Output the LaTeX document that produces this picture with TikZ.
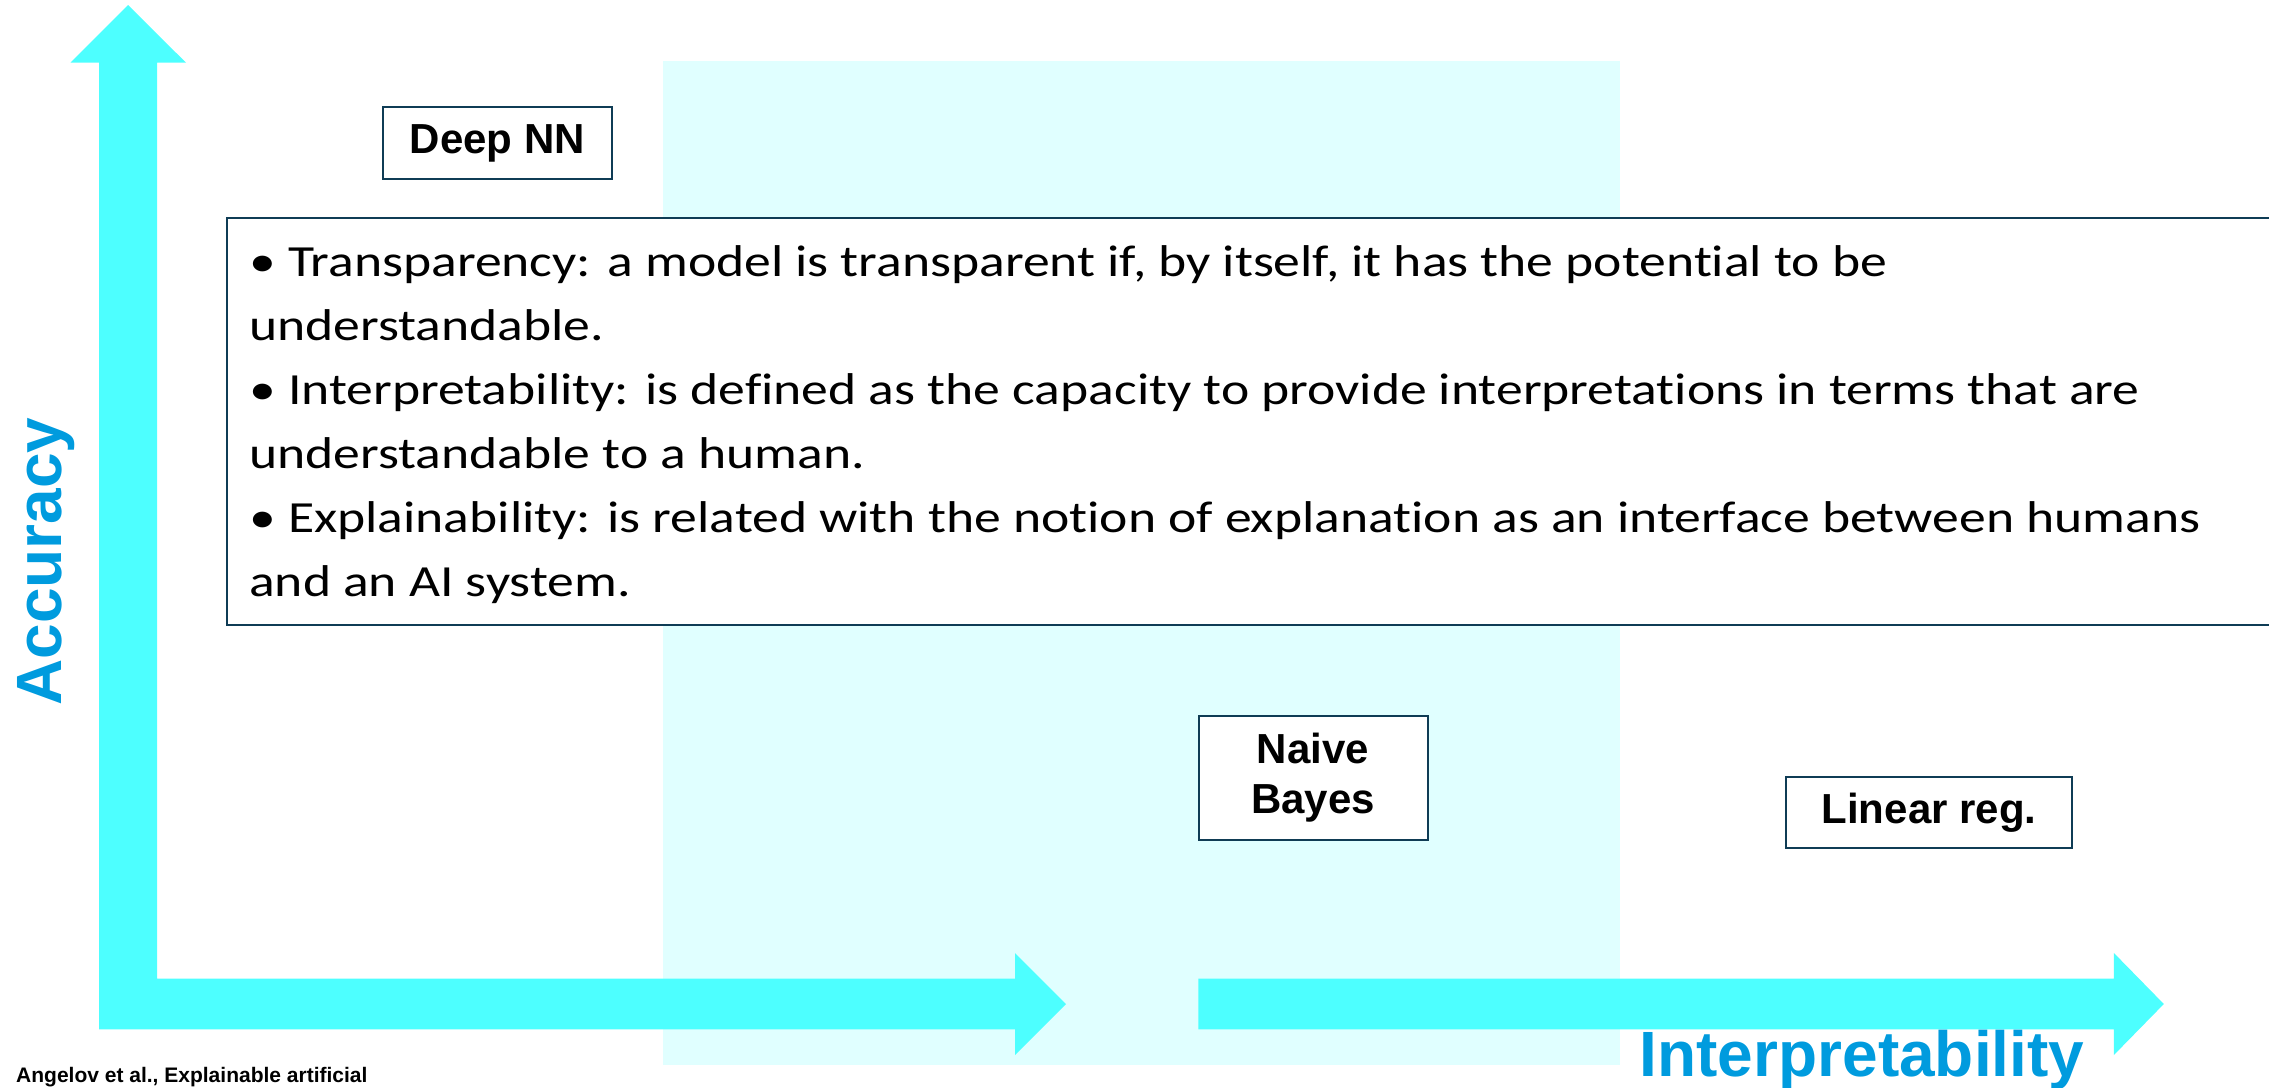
\documentclass[tikz,border=0pt]{standalone}
\usepackage{fontspec}
\setmainfont{Carlito}
\newfontfamily\lsans{Liberation Sans}
\newfontfamily\defsfont{Carlito}[FakeStretch=1.205, Ligatures={NoCommon}]
\definecolor{arrowcyan}{RGB}{77,255,255}
\definecolor{shadecyan}{RGB}{224,255,255}
\definecolor{axisblue}{RGB}{0,155,222}
\definecolor{border}{RGB}{15,60,85}
\tikzset{
  modelbox/.style={draw=border, line width=2pt, fill=white, inner sep=0pt, align=center,
    font=\lsans\bfseries\fontsize{42}{50}\selectfont},
  defline/.style={anchor=base west, inner sep=0pt, font=\defsfont\fontsize{44.5}{52}\selectfont},
  axislabel/.style={text=axisblue, inner sep=0pt, font=\lsans\bfseries\fontsize{64}{72}\selectfont},
}
\begin{document}
\begin{tikzpicture}[x=1pt,y=-1pt]
\useasboundingbox (0,0) rectangle (2269,1087);
% shaded region
\fill[shadecyan] (663,61) rectangle (1620,1065);
% L-shaped axis arrow
\fill[arrowcyan] (99,1029.3) -- (99,62.7) -- (70.5,62.7) -- (128,5) -- (186,62.7) -- (157,62.7)
  -- (157,978.7) -- (1015,978.7) -- (1015,953) -- (1066,1004) -- (1015,1055) -- (1015,1029.3) -- cycle;
% second horizontal arrow
\fill[arrowcyan] (1198.4,978.7) -- (2113.9,978.7) -- (2113.9,953) -- (2163.8,1004) -- (2113.9,1055)
  -- (2113.9,1029.3) -- (1198.4,1029.3) -- cycle;
% definitions box
\node[draw=border, line width=2.5pt, fill=white, inner sep=0pt, minimum width=2060, minimum height=407]
  (defs) at (1257,421.5) {};
\node[defline] (l1) at (249,276) {• Transparency: a model is transparent if, by itself, it has the potential to be};
\node[defline] (l2) at (249,340.1) {understandable.};
\node[defline] (l3) at (249,404.2) {• Interpretability: is defined as the capacity to provide interpretations in terms that are};
\node[defline] (l4) at (249,468.3) {understandable to a human.};
\node[defline] (l5) at (249,532.4) {• Explainability: is related with the notion of explanation as an interface between humans};
\node[defline] (l6) at (249,596.5) {and an AI system.};
% model boxes
\node[modelbox, minimum width=229.4, minimum height=72] (dnn) at (497.3,143) {Deep NN};
\node[modelbox, minimum width=229, minimum height=124] (nb) at (1313,778) {Naive\\Bayes};
\node[modelbox, minimum width=286, minimum height=71.6] (lr) at (1929,812.5) {Linear reg.};
% axis labels
\node[axislabel, anchor=base, rotate=90] (acc) at (61.7,561.5) {Accuracy};
\node[axislabel, anchor=base] (interp) at (1862,1076) {Interpretability};
% citation
\node[anchor=base west, inner sep=0pt, font=\lsans\bfseries\fontsize{21}{24}\selectfont] (cite) at (16,1082)
  {Angelov et al., Explainable artificial};
\end{tikzpicture}
\end{document}
